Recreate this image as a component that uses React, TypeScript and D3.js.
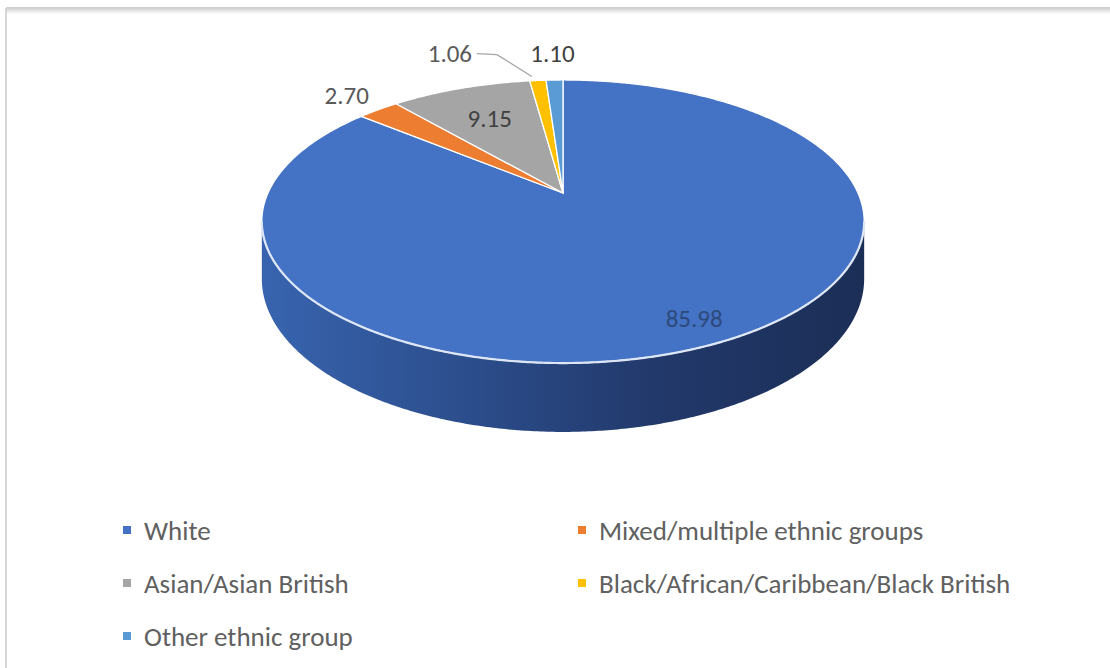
import React from "react";
import * as d3 from "d3";

const categories = [
  "White",
  "Mixed/multiple ethnic groups",
  "Asian/Asian British",
  "Black/African/Caribbean/Black British",
  "Other ethnic group",
];
const values = [85.98, 2.7, 9.15, 1.06, 1.1];
const seriesColors = ["#4472C4", "#ED7D31", "#A5A5A5", "#FFC000", "#5B9BD5"];

// layout
const W = 1110;
const H = 668;
const CX = 563;
const CY = 193; // projected pie centre (apex)
const R = 295; // horizontal radius
const A = 135.8; // vertical radius factor
const E = 0.2014; // perspective factor
const DEPTH = 55;
const FONT = "Carlito, Calibri, Lato, sans-serif";
const labelRadius = [0.86, 1.2, 0.68, 1.3, 1.3];
const labelDx = [0, 0, 0, -82, 0];
const labelColors = ["#2d4a7c", "#595959", "#404040", "#595959", "#404040"];

function proj(theta: number, f = 1, h = 0): [number, number] {
  const u = Math.sin(theta) * f;
  const v = Math.cos(theta) * f;
  const den = 1 + E * v;
  return [CX + (R * u) / den, CY - (A * v) / den + (h * DEPTH) / den];
}

function sampleArc(a0: number, a1: number, h = 0, f = 1): [number, number][] {
  const n = Math.max(2, Math.ceil(Math.abs(a1 - a0) / (Math.PI / 360)));
  return d3.range(n + 1).map((i) => proj(a0 + ((a1 - a0) * i) / n, f, h));
}

export default function App() {
  const color = d3.scaleOrdinal<string, string>().domain(categories).range(seriesColors);
  const pie = d3
    .pie<number>()
    .sort(null)
    .startAngle(0)
    .endAngle(2 * Math.PI);
  const arcs = pie(values);
  const line = d3.line();
  const fmt = d3.format(".2f");

  const thR = Math.acos(-E);
  const thL = 2 * Math.PI - thR;
  const topFront = sampleArc(thR, thL, 0);
  const botFront = sampleArc(thL, thR, 1);
  const sidePath = line([...topFront, ...botFront]) + "Z";

  const legendCols = [127, 582];
  const legendRows = [530, 583, 636];

  return (
    <svg
      width={W}
      height={H}
      style={{ position: "absolute", left: 0, top: 0, background: "#fff" }}
      fontFamily={FONT}
    >
      <defs>
        <linearGradient id="sideGrad" x1="0" x2="1" y1="0" y2="0">
          <stop offset="0" stopColor="#3864af" />
          <stop offset="0.3" stopColor="#2d5090" />
          <stop offset="0.65" stopColor="#22396b" />
          <stop offset="1" stopColor="#1b2e56" />
        </linearGradient>
        <linearGradient id="topBorder" x1="0" x2="0" y1="0" y2="1">
          <stop offset="0" stopColor="#cfcfcf" />
          <stop offset="1" stopColor="#ffffff" />
        </linearGradient>
      </defs>
      <rect x={0} y={0} width={W} height={H} fill="#ffffff" />
      {/* chart area border */}
      <rect x={6} y={8} width={W} height={6} fill="url(#topBorder)" />
      <line x1={6} x2={W} y1={8} y2={8} stroke="#d0d0d0" strokeWidth={2} />
      <line x1={6} x2={6} y1={8} y2={H} stroke="#d6d6d6" strokeWidth={2} />

      {/* side wall (front) */}
      <path d={sidePath} fill="url(#sideGrad)" />

      {/* top face slices */}
      {arcs.map((a, i) => {
        const pts = [proj(0, 0), ...sampleArc(a.startAngle, a.endAngle, 0)];
        return (
          <path
            key={i}
            d={line(pts) + "Z"}
            fill={color(categories[i])}
            stroke="#ffffff"
            strokeWidth={1.3}
            strokeLinejoin="round"
          />
        );
      })}

      {/* front edge highlight */}
      <path d={line(topFront) || ""} fill="none" stroke="#dce6f5" strokeWidth={2.2} />

      {/* leader line for small slice */}
      {arcs.map((a, i) => {
        if (!labelDx[i]) return null;
        const mid = (a.startAngle + a.endAngle) / 2;
        const [lx, ly] = proj(mid, labelRadius[i]);
        const tx = lx + labelDx[i];
        const end = proj(mid, 1.0);
        return (
          <polyline
            key={"ld" + i}
            points={`${tx + 27},${ly} ${tx + 47},${ly + 1} ${end[0] - 6},${end[1] - 4}`}
            fill="none"
            stroke="#a6a6a6"
            strokeWidth={1.3}
          />
        );
      })}

      {/* data labels */}
      {arcs.map((a, i) => {
        const mid = (a.startAngle + a.endAngle) / 2;
        const [lx, ly] = proj(mid, labelRadius[i]);
        return (
          <text
            key={"l" + i}
            x={lx + labelDx[i] + (i === 0 ? 3 : 0)}
            y={ly}
            textAnchor="middle"
            dominantBaseline="central"
            fontSize={25}
            fill={labelColors[i]}
          >
            {fmt(values[i])}
          </text>
        );
      })}

      {/* legend */}
      {categories.map((c, i) => {
        const x = legendCols[i % 2];
        const y = legendRows[Math.floor(i / 2)];
        return (
          <g key={"lg" + i} transform={`translate(${x},${y})`}>
            <rect x={-4} y={-4} width={8} height={8} fill={color(c)} />
            <text x={17} y={0} dominantBaseline="central" fontSize={27} fill="#606060">
              {c}
            </text>
          </g>
        );
      })}
    </svg>
  );
}
